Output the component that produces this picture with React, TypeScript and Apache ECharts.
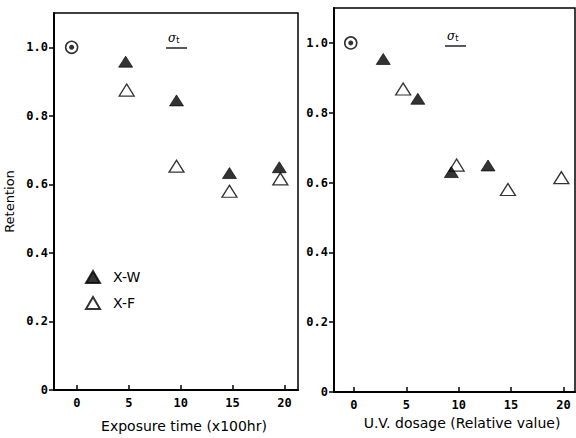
import React, { useEffect, useRef } from "react";
import * as echarts from "echarts";

const xTicks = [0, 5, 10, 15, 20];
const yTicks = [0, 0.2, 0.4, 0.6, 0.8, 1.0];

const controlLeftX = [-0.5];
const controlLeftY = [1.0];
const xwTime = [4.7, 9.6, 14.7, 19.5];
const xwRetLeft = [0.958, 0.845, 0.633, 0.65];
const xfTime = [4.8, 9.6, 14.7, 19.6];
const xfRetLeft = [0.875, 0.653, 0.58, 0.616];

const controlRightX = [-0.3];
const controlRightY = [1.0];
const xwDose = [2.8, 6.1, 9.3, 12.8];
const xwRetRight = [0.954, 0.84, 0.63, 0.649];
const xfDose = [4.7, 9.8, 14.7, 19.8];
const xfRetRight = [0.868, 0.65, 0.58, 0.614];

const zip = (a: number[], b: number[]) => a.map((v, i) => [v, b[i]]);

const tickFont = { fontFamily: "DejaVu Sans Mono", fontSize: 12, fontWeight: "bold", color: "#000" };
const nameFont = { fontFamily: "DejaVu Sans", fontSize: 14, color: "#000" };

function makeX(gridIndex: number, min: number, max: number, name: string, gap: number, shift: number) {
  return {
    type: "value",
    gridIndex,
    min,
    max,
    name,
    nameLocation: "middle",
    nameGap: gap,
    nameTextStyle: { ...nameFont, padding: [0, 0, 0, shift] },
    axisLine: { onZero: false, lineStyle: { color: "#000", width: 2 } },
    axisTick: { show: true, inside: true, length: 5, customValues: xTicks, lineStyle: { color: "#000", width: 1.5 } },
    axisLabel: { customValues: xTicks, margin: 7, ...tickFont },
    splitLine: { show: false },
  };
}

function makeY(gridIndex: number, name: string) {
  return {
    type: "value",
    gridIndex,
    min: 0,
    max: 1.1,
    name,
    nameLocation: "middle",
    nameGap: 38,
    nameTextStyle: { ...nameFont, fontSize: 13 },
    axisLine: { onZero: false, lineStyle: { color: "#000", width: 2 } },
    axisTick: { show: true, inside: false, length: 5, customValues: yTicks, lineStyle: { color: "#000", width: 1.5 } },
    axisLabel: {
      customValues: yTicks,
      margin: 6,
      ...tickFont,
      formatter: (v: number) => (v === 0 ? "0" : v.toFixed(1)),
    },
    splitLine: { show: false },
  };
}

function panelSeries(idx: number, cx: number[], cy: number[], wx: number[], wy: number[], fx: number[], fy: number[]) {
  return [
    {
      name: "Control",
      type: "scatter",
      xAxisIndex: idx,
      yAxisIndex: idx,
      data: zip(cx, cy),
      symbol: "circle",
      symbolSize: 12,
      itemStyle: { color: "#fff", borderColor: "#000", borderWidth: 1.6 },
      z: 3,
    },
    {
      name: "ControlDot",
      type: "scatter",
      xAxisIndex: idx,
      yAxisIndex: idx,
      data: zip(cx, cy),
      symbol: "circle",
      symbolSize: 5,
      itemStyle: { color: "#000" },
      z: 4,
    },
    {
      name: "X-W",
      type: "scatter",
      xAxisIndex: idx,
      yAxisIndex: idx,
      data: zip(wx, wy),
      symbol: "triangle",
      symbolSize: [14, 11],
      itemStyle: { color: "#000", borderColor: "#000", borderWidth: 0.8 },
      z: 4,
    },
    {
      name: "X-F",
      type: "scatter",
      xAxisIndex: idx,
      yAxisIndex: idx,
      data: zip(fx, fy),
      symbol: "triangle",
      symbolSize: [15, 12],
      itemStyle: { color: "#fff", borderColor: "#000", borderWidth: 1.3 },
      z: 3,
    },
  ];
}

function sigma(x: number, y: number, lineY: number) {
  return [
    {
      type: "text",
      x,
      y,
      style: {
        text: "{a|σ}{b|t}",
        rich: {
          a: { fontFamily: "DejaVu Serif", fontStyle: "italic", fontSize: 12, fill: "#000" },
          b: { fontFamily: "DejaVu Sans", fontSize: 8, fill: "#000", padding: [5, 0, 0, 0] },
        },
      },
    },
    {
      type: "line",
      shape: { x1: x - 2, y1: lineY, x2: x + 19, y2: lineY },
      style: { stroke: "#000", lineWidth: 1.3 },
    },
  ];
}

export default function App() {
  const ref = useRef<HTMLDivElement>(null);
  useEffect(() => {
    if (!ref.current) return;
    const chart = echarts.init(ref.current, undefined, { renderer: "svg" });
    chart.setOption({
      animation: false,
      backgroundColor: "#fff",
      grid: [
        { left: 54, top: 13, width: 244, height: 382, show: true, borderColor: "#000", borderWidth: 1.5 },
        { left: 334, top: 8, width: 241, height: 384, show: true, borderColor: "#000", borderWidth: 1.5 },
      ],
      xAxis: [
        makeX(0, -2.2, 21.3, "Exposure time (x100hr)", 29, 16),
        makeX(1, -1.9, 21.1, "U.V. dosage (Relative value)", 17, 15),
      ],
      yAxis: [makeY(0, "Retention"), makeY(1, "")],
      legend: {
        data: ["X-W", "X-F"],
        orient: "vertical",
        left: 85,
        top: 270,
        padding: 0,
        itemWidth: 14,
        itemHeight: 12,
        itemGap: 12,
        textStyle: { fontFamily: "DejaVu Sans", fontSize: 14, color: "#000", padding: [0, 0, 0, 8] },
      },
      graphic: [...sigma(168, 31, 48), ...sigma(447, 29, 46)],
      series: [
        ...panelSeries(0, controlLeftX, controlLeftY, xwTime, xwRetLeft, xfTime, xfRetLeft),
        ...panelSeries(1, controlRightX, controlRightY, xwDose, xwRetRight, xfDose, xfRetRight),
      ],
    });
    return () => chart.dispose();
  }, []);
  return <div ref={ref} style={{ width: 576, height: 438, position: "absolute", left: 0, top: 0 }} />;
}
